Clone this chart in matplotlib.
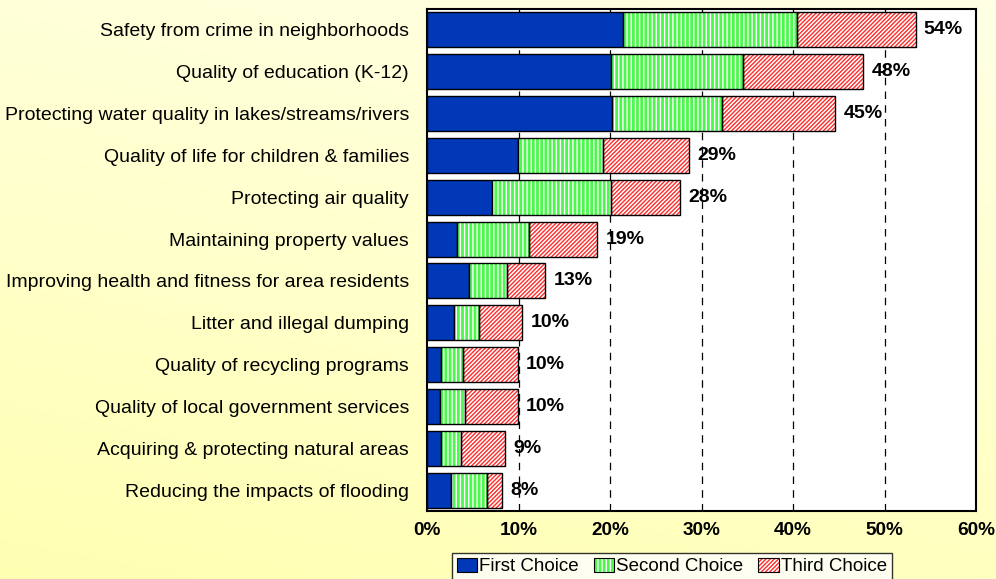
import numpy as np
import matplotlib
matplotlib.use("Agg")
from matplotlib import pyplot as plt
from matplotlib.patches import Patch

plt.rcParams["font.family"] = ["Liberation Sans", "DejaVu Sans"]
plt.rcParams["hatch.linewidth"] = 1.0

categories = [
    "Safety from crime in neighborhoods",
    "Quality of education (K-12)",
    "Protecting water quality in lakes/streams/rivers",
    "Quality of life for children & families",
    "Protecting air quality",
    "Maintaining property values",
    "Improving health and fitness for area residents",
    "Litter and illegal dumping",
    "Quality of recycling programs",
    "Quality of local government services",
    "Acquiring & protecting natural areas",
    "Reducing the impacts of flooding",
]
first = [21.4, 20.1, 20.2, 9.9, 7.1, 3.3, 4.6, 2.9, 1.5, 1.4, 1.5, 2.6]
second = [19.0, 14.4, 12.0, 9.3, 13.0, 7.9, 4.1, 2.8, 2.4, 2.7, 2.2, 4.0]
third = [13.0, 13.2, 12.4, 9.4, 7.6, 7.4, 4.2, 4.7, 6.0, 5.8, 4.8, 1.6]
total_labels = [54, 48, 45, 29, 28, 19, 13, 10, 10, 10, 9, 8]
xticks = [0, 10, 20, 30, 40, 50, 60]

blue = "#0038B8"
green = "#4CF84C"
red = "#FF2A2A"

fig = plt.figure(figsize=(9.96, 5.79), dpi=100)

# yellow gradient background
bg = fig.add_axes([0, 0, 1, 1], zorder=-5)
yy, xx = np.mgrid[0:1:200j, 0:1:200j]
t = np.clip(0.75 * yy + 0.25 * (1 - xx), 0, 1)
top = np.array([1.0, 1.0, 0.90])
bot = np.array([1.0, 1.0, 0.70])
grad = top[None, None, :] * (1 - t[..., None]) + bot[None, None, :] * t[..., None]
bg.imshow(grad, aspect="auto", extent=[0, 1, 0, 1], origin="upper")
bg.axis("off")

ax = fig.add_axes([427 / 996, 68 / 579, 549 / 996, 502 / 579])
ax.set_facecolor("white")

y = np.arange(len(categories))
first = np.array(first)
second = np.array(second)
third = np.array(third)
h = 0.84

ax.barh(y, first, height=h, color=blue, edgecolor="black", linewidth=1, zorder=3)
ax.barh(y, second, left=first, height=h, color=green, edgecolor="white",
        hatch="||||", linewidth=0, zorder=3)
ax.barh(y, second, left=first, height=h, fill=False, edgecolor="black", linewidth=1, zorder=4)
ax.barh(y, third, left=first + second, height=h, color="white", edgecolor=red,
        hatch="////////", linewidth=0, zorder=3)
ax.barh(y, third, left=first + second, height=h, fill=False, edgecolor="black",
        linewidth=1, zorder=4)

tot = first + second + third
for i in range(len(categories)):
    ax.text(tot[i] + 0.9, y[i], f"{total_labels[i]}%", va="center", ha="left",
            fontsize=14, fontweight="bold", zorder=5)

ax.set_xlim(0, 60)
ax.set_ylim(len(categories) - 0.5, -0.5)
ax.set_xticks(xticks)
ax.set_xticklabels([f"{v}%" for v in xticks], fontweight="bold", fontsize=13.7)
ax.set_yticks(y)
ax.set_yticklabels(categories, fontsize=14)
ax.tick_params(axis="y", length=0, pad=13)
ax.tick_params(axis="x", length=0, pad=8)
for v in xticks[1:-1]:
    ax.axvline(v, color="black", linestyle=(0, (6, 5)), linewidth=0.9, zorder=1)
for s in ax.spines.values():
    s.set_linewidth(1.5)
    s.set_color("black")

# legend
h1 = Patch(facecolor=blue, edgecolor="black", linewidth=0.8)
h2 = (Patch(facecolor=green, edgecolor="white", hatch="||||", linewidth=0),
      Patch(fill=False, edgecolor="black", linewidth=0.8))
h3 = (Patch(facecolor="white", edgecolor=red, hatch="////////", linewidth=0),
      Patch(fill=False, edgecolor="black", linewidth=0.8))
leg = fig.legend([h1, h2, h3], ["First Choice", "Second Choice", "Third Choice"],
                 loc="upper left", bbox_to_anchor=(452 / 996, 1 - 553 / 579),
                 ncol=3, frameon=True, fancybox=False, fontsize=13.5,
                 handlelength=1.1, handleheight=0.8, handletextpad=0.1,
                 columnspacing=0.8, borderpad=0.25, borderaxespad=0)
leg.get_frame().set_edgecolor("black")
leg.get_frame().set_linewidth(1)

fig.savefig("out.png", dpi=100)
